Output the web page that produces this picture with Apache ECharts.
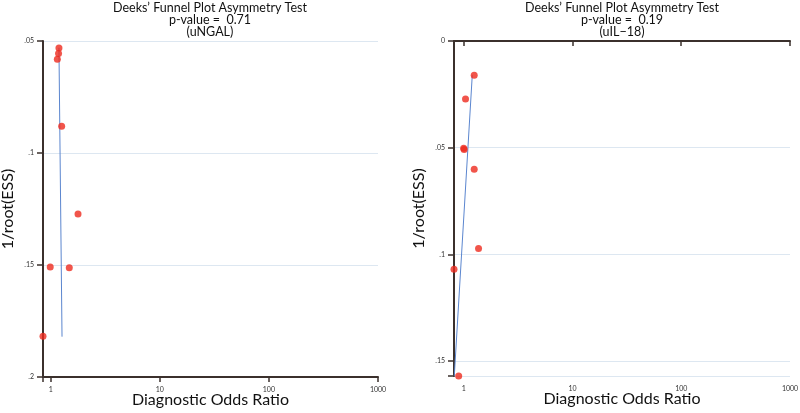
<!DOCTYPE html>
<html><head><meta charset="utf-8">
<script src="https://cdn.jsdelivr.net/npm/echarts@6/dist/echarts.min.js"></script>
<style>html,body{margin:0;padding:0;background:#fff}#c{width:800px;height:413px}</style>
</head><body><div id="c"></div>
<script>
// Left panel (uNGAL)
const titleLeft = "Deeks’ Funnel Plot Asymmetry Test\np-value =  0.71\n(uNGAL)";
const dorLeft = [1.19, 1.18, 1.15, 1.26, 1.78, 0.99, 1.48, 0.85];
const essLeft = [0.0531, 0.0556, 0.0582, 0.0881, 0.1272, 0.1509, 0.1512, 0.1818];
const fitLeftX = [1.19, 1.27];
const fitLeftY = [0.053, 0.182];
const yTicksLeft = [0.05, 0.1, 0.15, 0.2];
const yLabelsLeft = ['.05', '.1', '.15', '.2'];

// Right panel (uIL-18)
const titleRight = "Deeks’ Funnel Plot Asymmetry Test\np-value =  0.19\n(uIL−18)";
const dorRight = [1.25, 1.04, 1.0, 1.01, 1.25, 1.37, 0.815, 0.90];
const essRight = [0.016, 0.0272, 0.0503, 0.0508, 0.0601, 0.0973, 0.107, 0.157];
const fitRightX = [1.20, 0.82];
const fitRightY = [0.016, 0.157];
const yTicksRight = [0, 0.05, 0.1, 0.15];
const yLabelsRight = ['0', '.05', '.1', '.15'];

const xTicks = [1, 10, 100, 1000];
const xLabels = ['1', '10', '100', '1000'];
const xName = 'Diagnostic Odds Ratio';
const yName = '1/root(ESS)';

const FONT = 'Lato';
const axisColor = '#3b302c';
function zip(a, b) { return a.map((v, i) => [v, b[i]]); }
function xLab(v) {
  for (let i = 0; i < xTicks.length; i++) if (Math.abs(v - xTicks[i]) < 1e-6 * xTicks[i]) return xLabels[i];
  return '';
}
function yLabFn(ticks, labels) {
  return function (v) {
    for (let i = 0; i < ticks.length; i++) if (Math.abs(v - ticks[i]) < 1e-9) return labels[i];
    return '';
  };
}
function xAxis(idx, min) {
  return {
    type: 'log', logBase: 10, gridIndex: idx, min: min, max: 1000,
    name: xName, nameLocation: 'middle', nameGap: 15, nameMoveOverlap: false,
    nameTextStyle: { fontFamily: FONT, fontSize: 16, color: '#111' },
    axisLine: { lineStyle: { color: axisColor, width: 2 } },
    axisTick: { show: true, length: 5, lineStyle: { color: axisColor, width: 1.5 } },
    axisLabel: { formatter: xLab, fontFamily: FONT, fontSize: 7, color: '#333', margin: 9 },
    splitLine: { show: false }, minorTick: { show: false }
  };
}
function yAxis(idx, min, max, ticks, labels) {
  return {
    type: 'value', gridIndex: idx, inverse: true, min: min, max: max, interval: 0.05,
    name: yName, nameLocation: 'middle', nameGap: 27, nameRotate: 90, nameMoveOverlap: false,
    nameTextStyle: { fontFamily: FONT, fontSize: 16, color: '#111' },
    axisLine: { show: true, lineStyle: { color: axisColor, width: 2 } },
    axisTick: { show: true, length: 6, lineStyle: { color: axisColor, width: 1.5 } },
    axisLabel: { formatter: yLabFn(ticks, labels), fontFamily: FONT, fontSize: 7, color: '#333', margin: 9, showMaxLabel: true },
    splitLine: { show: true, lineStyle: { color: '#dde7f1', width: 1 } }
  };
}
const titleStyle = { fontFamily: FONT, fontSize: 12.5, fontWeight: 'normal', color: '#111', lineHeight: 12 };
const chart = echarts.init(document.getElementById('c'));
chart.setOption({
  animation: false,
  backgroundColor: '#fff',
  title: [
    { text: titleLeft, left: 210, top: 2, padding: 0, textAlign: 'center', textStyle: titleStyle },
    { text: titleRight, left: 622, top: 2, padding: 0, textAlign: 'center', textStyle: titleStyle }
  ],
  grid: [
    { left: 43, top: 41, width: 335, height: 336, outerBoundsMode: 'none', containLabel: false },
    { left: 454, top: 41, width: 336, height: 335, outerBoundsMode: 'none', containLabel: false }
  ],
  xAxis: [xAxis(0, 0.85), xAxis(1, 0.815)],
  yAxis: [yAxis(0, 0.05, 0.2, yTicksLeft, yLabelsLeft), yAxis(1, 0, 0.157, yTicksRight, yLabelsRight)],
  series: [
    { type: 'line', xAxisIndex: 0, yAxisIndex: 0, data: zip(fitLeftX, fitLeftY), symbol: 'none', lineStyle: { color: '#5b86cf', width: 1 }, z: 2 },
    { type: 'scatter', xAxisIndex: 0, yAxisIndex: 0, data: zip(dorLeft, essLeft), symbolSize: 7, itemStyle: { color: '#ee2a1e' }, z: 3 },
    { type: 'line', xAxisIndex: 1, yAxisIndex: 1, data: zip(fitRightX, fitRightY), symbol: 'none', lineStyle: { color: '#5b86cf', width: 1 }, z: 2 },
    { type: 'scatter', xAxisIndex: 1, yAxisIndex: 1, data: zip(dorRight, essRight), symbolSize: 7, itemStyle: { color: '#ee2a1e' }, z: 3 }
  ]
});
</script></body></html>
